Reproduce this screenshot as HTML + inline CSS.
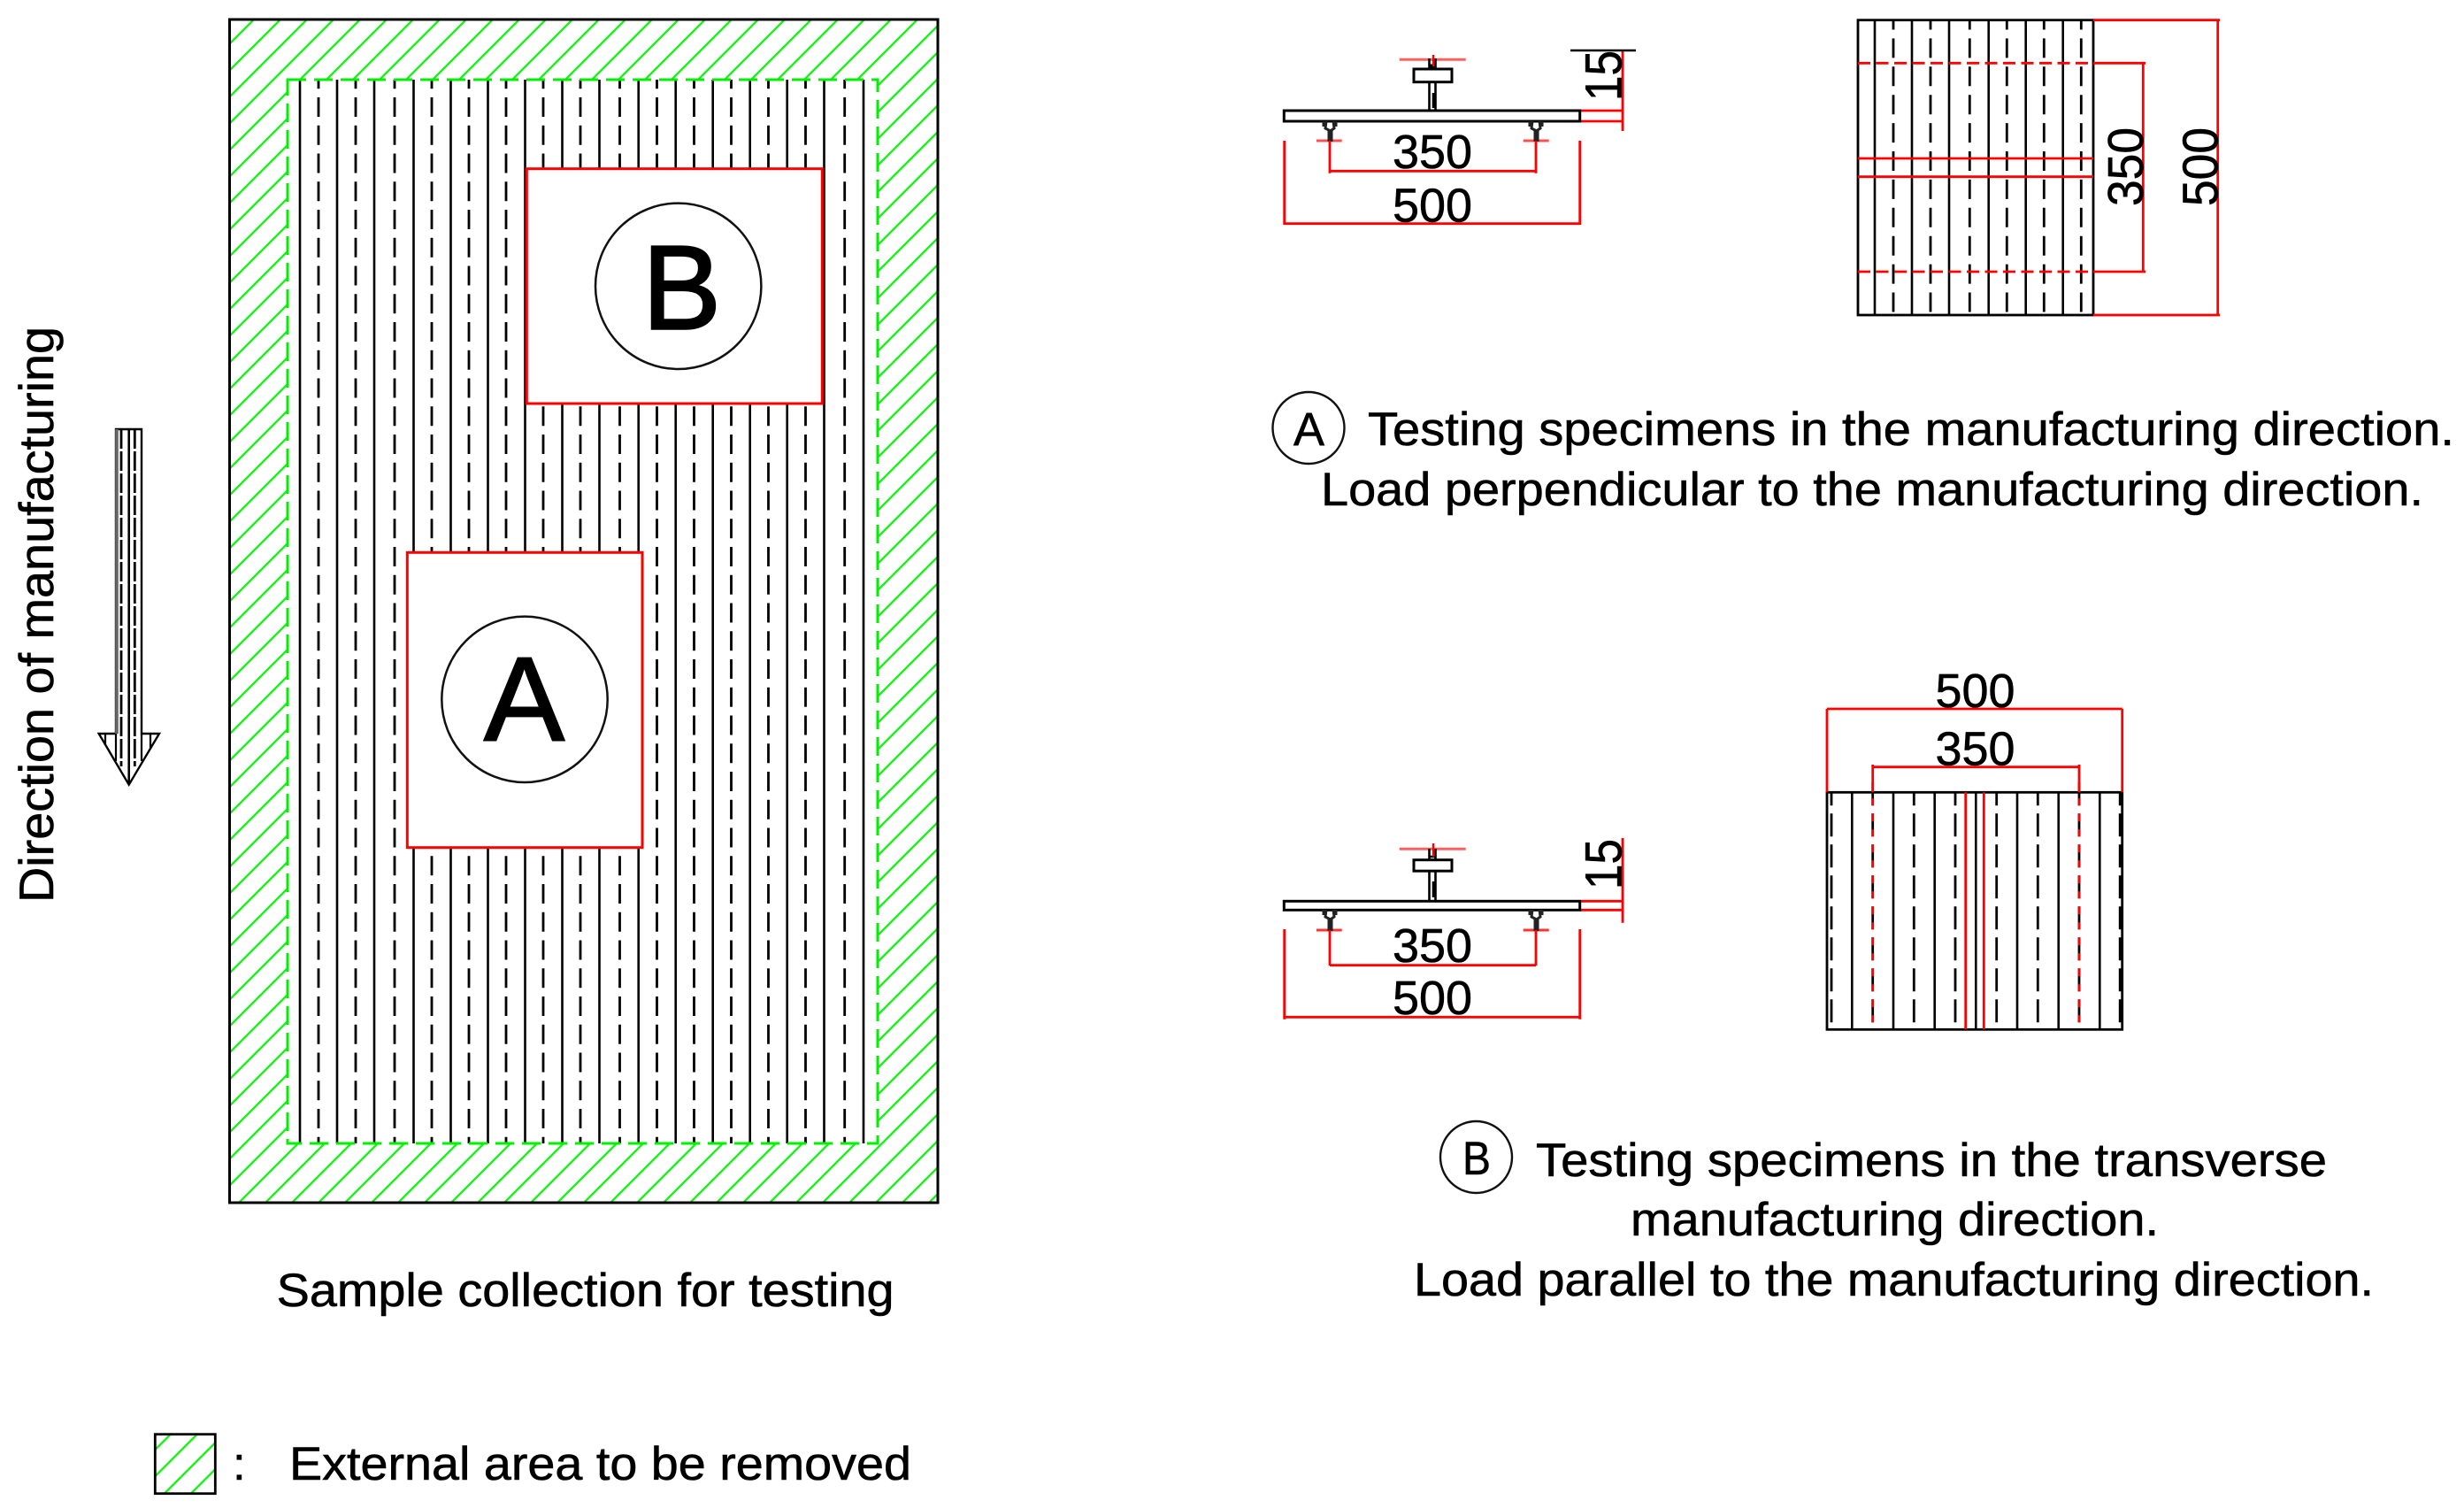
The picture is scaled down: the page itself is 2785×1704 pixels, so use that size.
<!DOCTYPE html>
<html><head><meta charset="utf-8"><style>
html,body{margin:0;padding:0;background:#fff}
svg{display:block}
text{font-family:"Liberation Sans",Arial,sans-serif;fill:#000;stroke:#000;stroke-width:.6}
</style></head><body>
<svg xmlns="http://www.w3.org/2000/svg" width="2785" height="1704" viewBox="0 0 2785 1704">
<defs>
<pattern id="h" patternUnits="userSpaceOnUse" x="9" y="0" width="30" height="30"><path d="M-3 33L33 -3M-10 10L10 -10M20 40L40 20" stroke="#10f410" stroke-width="2.3" fill="none"/></pattern>
<pattern id="h2" patternUnits="userSpaceOnUse" x="13.5" y="0" width="30" height="30"><path d="M-3 33L33 -3M-10 10L10 -10M20 40L40 20" stroke="#10f410" stroke-width="2.3" fill="none"/></pattern>
</defs>
<rect width="2785" height="1704" fill="#fff"/>

<!-- main sheet -->
<path d="M259.5 22H1060V1359H259.5ZM325 90V1292H992V90Z" fill="url(#h)" fill-rule="evenodd"/>
<path d="M339 90V1292M381 90V1292M423 90V1292M467.5 90V1292M509.5 90V1292M551.5 90V1292M593.5 90V1292M635.5 90V1292M677.5 90V1292M721.7 90V1292M763.7 90V1292M805.7 90V1292M847.7 90V1292M889.7 90V1292M931.5 90V1292M976 90V1292" stroke="#000" stroke-width="2.6" fill="none"/>
<path d="M360 90V1292M402 90V1292M446 90V1292M488 90V1292M530 90V1292M572 90V1292M614 90V1292M656 90V1292M700.5 90V1292M742.5 90V1292M784.5 90V1292M826.5 90V1292M868.5 90V1292M910.5 90V1292M954.7 90V1292" stroke="#000" stroke-width="2.8" fill="none" stroke-dasharray="22 9.75" stroke-dashoffset="11.75"/>
<rect x="325" y="90" width="667" height="1202" fill="none" stroke="#00f000" stroke-width="3" stroke-dasharray="21 9"/>
<rect x="259.5" y="22" width="800.5" height="1337" fill="none" stroke="#000" stroke-width="3"/>
<rect x="595.3" y="190.7" width="334" height="265.3" fill="#fff" stroke="#f00" stroke-width="3"/>
<rect x="460.3" y="624.3" width="265.7" height="333.4" fill="#fff" stroke="#f00" stroke-width="3"/>
<circle cx="766.7" cy="323.3" r="93.7" fill="none" stroke="#111" stroke-width="2.5"/>
<circle cx="593" cy="790.3" r="93.7" fill="none" stroke="#111" stroke-width="2.5"/>
<text x="726" y="371.5" font-size="135" textLength="89" lengthAdjust="spacingAndGlyphs" style="stroke-width:2.4">B</text>
<text x="547" y="836.5" font-size="135" textLength="91" lengthAdjust="spacingAndGlyphs" style="stroke-width:2">A</text>

<!-- direction arrow -->
<path d="M131 485H160V829H180L145.7 886.7L111.7 829H131Z" fill="#fff" stroke="#000" stroke-width="2.4"/>
<path d="M132 485V829" stroke="#666" stroke-width="3.6"/>
<path d="M145.7 485V886" stroke="#000" stroke-width="2.6"/>
<path d="M137 485V866M152.3 485V866" stroke="#000" stroke-width="2.8" stroke-dasharray="22 3" fill="none"/>
<path d="M119 829V842M131 829V860M160 829V860M170 829V845" stroke="#000" stroke-width="2.2"/>
<text transform="translate(60 1020) rotate(-90)" font-size="55" textLength="651" lengthAdjust="spacingAndGlyphs">Direction of manufacturing</text>

<text x="312.6" y="1476" font-size="53" textLength="698" lengthAdjust="spacingAndGlyphs">Sample collection for testing</text>

<!-- legend -->
<rect x="175.3" y="1620.7" width="68" height="67" fill="url(#h2)" stroke="#000" stroke-width="2.8"/>
<text x="263" y="1672" font-size="53">:</text>
<text x="327" y="1672" font-size="53" textLength="703" lengthAdjust="spacingAndGlyphs">External area to be removed</text>

<!-- panel A side view -->
<g fill="none">
<path d="M1786 125H1834M1786 137H1834M1834 58V148" stroke="#f00" stroke-width="2.8"/>
<path d="M1775 57H1849" stroke="#000" stroke-width="2.6"/>
<path d="M1581.7 67.3H1656.7" stroke="#ff6060" stroke-width="3"/>
<path d="M1488 159H1516.7M1721.7 159H1750.7" stroke="#ff5050" stroke-width="3"/>
<rect x="1451.3" y="125" width="334.4" height="12" stroke="#000" stroke-width="3" fill="#fff"/>
<rect x="1598" y="78" width="43" height="14.7" stroke="#000" stroke-width="3"/>
<path d="M1615.5 93V125M1622.5 93V125M1615.5 66V78M1622.5 66V78M1620 105V122" stroke="#000" stroke-width="2.6"/>
<path d="M1615 75H1623" stroke="#000" stroke-width="5"/>
<path d="M1620 62V75" stroke="#f00" stroke-width="2.4"/>
<path d="M1499 137L1498 145L1502 147L1502 160M1507 137L1508 145L1505 147L1505 160M1496 137V143M1510 137V143" stroke="#222" stroke-width="3"/>
<path d="M1732 137L1731 145L1735 147L1735 160M1740 137L1741 145L1738 147L1738 160M1729 137V143M1743 137V143" stroke="#222" stroke-width="3"/>
<path d="M1503 159V195.7M1736 159V195.7M1503 193.3H1736" stroke="#f00" stroke-width="2.8"/>
<path d="M1451.7 159V254M1785.7 159V254M1451.7 252.7H1785.7" stroke="#f00" stroke-width="2.8"/>
</g>
<text x="1574" y="190" font-size="54" textLength="90" lengthAdjust="spacingAndGlyphs">350</text>
<text x="1574" y="250.7" font-size="54" textLength="90" lengthAdjust="spacingAndGlyphs">500</text>
<text transform="translate(1832.5 114) rotate(-90)" font-size="58" textLength="57" lengthAdjust="spacingAndGlyphs">15</text>

<!-- panel A top view -->
<g fill="none">
<path d="M2119 22.7V356M2161 22.7V356M2203 22.7V356M2247.7 22.7V356M2289.7 22.7V356M2331.7 22.7V356" stroke="#000" stroke-width="2.6"/>
<path d="M2140 22.7V356M2182 22.7V356M2226.3 22.7V356M2268.3 22.7V356M2310.3 22.7V356M2352.3 22.7V356" stroke="#000" stroke-width="2.8" stroke-dasharray="22 9.9" stroke-dashoffset="11.2"/>
<rect x="2100" y="22.7" width="266" height="333.3" stroke="#000" stroke-width="2.8"/>
<path d="M2100 71.3H2366M2100 307H2366" stroke="#f00" stroke-width="2.8" stroke-dasharray="14 6.5"/>
<path d="M2100 179H2366M2100 199.7H2366" stroke="#f00" stroke-width="2.8"/>
<path d="M2366 22.7H2509M2366 356H2509M2506.7 22.7V356M2366 71.3H2425M2366 307H2425M2422.3 71.3V307" stroke="#f00" stroke-width="2.8"/>
</g>
<text transform="translate(2422 233) rotate(-90)" font-size="57" textLength="89" lengthAdjust="spacingAndGlyphs">350</text>
<text transform="translate(2506.5 233) rotate(-90)" font-size="57" textLength="89" lengthAdjust="spacingAndGlyphs">500</text>

<!-- caption A -->
<circle cx="1479" cy="483.5" r="40.5" fill="none" stroke="#111" stroke-width="2.4"/>
<text x="1462" y="503" font-size="53" textLength="35" lengthAdjust="spacingAndGlyphs">A</text>
<text x="1546" y="503" font-size="53" textLength="1228" lengthAdjust="spacingAndGlyphs">Testing specimens in the manufacturing direction.</text>
<text x="1493" y="571" font-size="53" textLength="1246" lengthAdjust="spacingAndGlyphs">Load perpendicular to the manufacturing direction.</text>

<!-- panel B side view -->
<g fill="none">
<path d="M1786 1018.3H1834M1786 1028.3H1834M1834 947V1042.7" stroke="#f00" stroke-width="2.8"/>
<path d="M1581.7 959.3H1656.7" stroke="#ff6060" stroke-width="3"/>
<path d="M1488 1051H1516.7M1721.7 1051H1750.7" stroke="#f33" stroke-width="3"/>
<rect x="1451.3" y="1018.3" width="334.4" height="10" stroke="#000" stroke-width="3" fill="#fff"/>
<rect x="1598" y="971.7" width="43" height="12.5" stroke="#000" stroke-width="3"/>
<path d="M1615.5 984V1018M1622.5 984V1018M1615.5 959V972M1622.5 959V972M1620 996V1014M1615 968H1623" stroke="#000" stroke-width="2.6"/>
<path d="M1620 953V968" stroke="#f00" stroke-width="2.4"/>
<path d="M1499 1028L1498 1036L1502 1038L1502 1052M1507 1028L1508 1036L1505 1038L1505 1052M1496 1028V1034M1510 1028V1034" stroke="#222" stroke-width="3"/>
<path d="M1732 1028L1731 1036L1735 1038L1735 1052M1740 1028L1741 1036L1738 1038L1738 1052M1729 1028V1034M1743 1028V1034" stroke="#222" stroke-width="3"/>
<path d="M1503 1051V1091M1736 1051V1091M1503 1090.7H1736" stroke="#f00" stroke-width="2.8"/>
<path d="M1451.7 1050V1151.7M1785.7 1050V1151.7M1451.7 1149.3H1785.7" stroke="#f00" stroke-width="2.8"/>
</g>
<text x="1574" y="1087" font-size="54" textLength="90" lengthAdjust="spacingAndGlyphs">350</text>
<text x="1574" y="1146" font-size="54" textLength="90" lengthAdjust="spacingAndGlyphs">500</text>
<text transform="translate(1832.5 1005) rotate(-90)" font-size="58" textLength="57" lengthAdjust="spacingAndGlyphs">15</text>

<!-- panel B top view -->
<g fill="none">
<path d="M2093.3 895.3V1163.3M2140 895.3V1163.3M2186.7 895.3V1163.3M2233.3 895.3V1163.3M2280 895.3V1163.3M2326.7 895.3V1163.3M2373.3 895.3V1163.3" stroke="#000" stroke-width="2.6"/>
<path d="M2070 884.3V1163.3M2116.7 884.3V1163.3M2163.3 884.3V1163.3M2210 884.3V1163.3M2256.7 884.3V1163.3M2303.3 884.3V1163.3M2350 884.3V1163.3" stroke="#000" stroke-width="2.8" stroke-dasharray="26 9"/>
<path d="M2397 884.3V1163.3" stroke="#000" stroke-width="4.4" stroke-dasharray="26 9"/>
<rect x="2065" y="884" width="335" height="10.2" fill="#fff" stroke="none"/>
<rect x="2065" y="895.3" width="333.7" height="268" stroke="#000" stroke-width="2.8"/>
<path d="M2221.7 895.3V1163.3M2242.3 895.3V1163.3" stroke="#f00" stroke-width="2.8"/>
<path d="M2116.7 884.3V1163.3M2350 884.3V1163.3" stroke="#f00" stroke-width="2.8" stroke-dasharray="9 9 8 9"/>
<path d="M2065 801V895.3M2398.7 801V895.3M2065 801H2398.7" stroke="#f00" stroke-width="2.8"/>
<path d="M2116.7 864V895.3M2350 864V895.3M2116.7 866.7H2350" stroke="#f00" stroke-width="2.8"/>
</g>
<text x="2187.5" y="799" font-size="54" textLength="90" lengthAdjust="spacingAndGlyphs">500</text>
<text x="2187.5" y="864.3" font-size="54" textLength="90" lengthAdjust="spacingAndGlyphs">350</text>

<!-- caption B -->
<circle cx="1668.5" cy="1307.5" r="40.5" fill="none" stroke="#111" stroke-width="2.4"/>
<text x="1653" y="1327" font-size="53" textLength="32" lengthAdjust="spacingAndGlyphs">B</text>
<text x="1736" y="1329" font-size="53" textLength="894" lengthAdjust="spacingAndGlyphs">Testing specimens in the transverse</text>
<text x="1843" y="1396" font-size="53" textLength="597" lengthAdjust="spacingAndGlyphs">manufacturing direction.</text>
<text x="1598" y="1464" font-size="53" textLength="1085" lengthAdjust="spacingAndGlyphs">Load parallel to the manufacturing direction.</text>
</svg>
</body></html>
